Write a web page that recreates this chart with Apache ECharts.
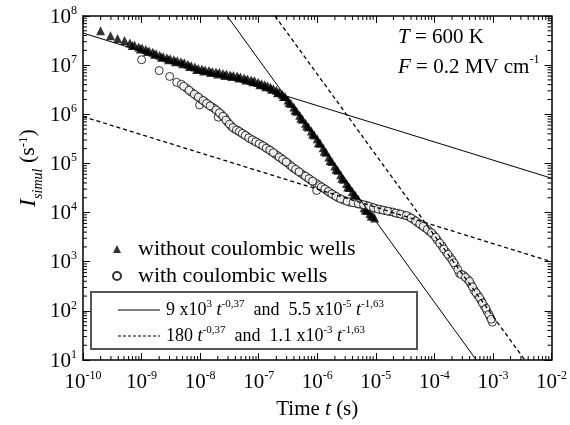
<!DOCTYPE html>
<html><head><meta charset="utf-8">
<script src="https://cdn.jsdelivr.net/npm/echarts@6/dist/echarts.min.js"></script>
<style>html,body{margin:0;padding:0;background:#fff}#c{width:570px;height:425px}</style>
</head><body><div id="c"></div>
<script>
const xTickExps = [-10,-9,-8,-7,-6,-5,-4,-3,-2];
const yTickExps = [1,2,3,4,5,6,7,8];

// "without coulombic wells" (triangles), log10 of time and rate
const triLogT = [-9.70,-9.53,-9.41,-9.29,-9.20,-9.12,-9.05,-8.99,-8.93,-8.87,-8.81,-8.75,-8.69,-8.63,-8.57,-8.51,-8.45,-8.39,-8.33,-8.27,-8.21,-8.15,-8.09,-8.03,-7.97,-7.91,-7.85,-7.79,-7.73,-7.67,-7.61,-7.55,-7.49,-7.43,-7.37,-7.31,-7.25,-7.19,-7.13,-7.07,-7.01,-6.95,-6.90,-6.85,-6.80,-6.75,-6.70,-6.65,-6.60,-6.55,-6.50,-6.45,-6.40,-6.35,-6.30,-6.25,-6.20,-6.15,-6.10,-6.05,-6.00,-5.95,-5.90,-5.85,-5.80,-5.75,-5.70,-5.65,-5.60,-5.55,-5.50,-5.45,-5.40,-5.35,-5.30,-5.25,-5.20,-5.15,-5.10,-5.05,-5.02,
  -9.16,-9.02,-8.90,-8.78,-8.66,-8.54,-8.42,-8.30,-8.18,-8.06,-7.94,-7.82,-7.70,-7.58,-7.46,-7.34,-7.22,-7.10,-6.98,-6.88,-6.78,-6.68,-6.58,-6.48,-6.38,-6.28,-6.18,-6.08,-5.98,-5.88,-5.78,-5.68,-5.58,-5.48,-5.38,-5.28,-5.18,-5.08];
const triLogI = [7.70,7.60,7.54,7.50,7.45,7.41,7.37,7.35,7.32,7.29,7.26,7.23,7.20,7.17,7.15,7.13,7.11,7.09,7.07,7.05,7.02,6.99,6.96,6.93,6.92,6.90,6.89,6.87,6.86,6.85,6.83,6.82,6.80,6.79,6.78,6.76,6.74,6.72,6.70,6.68,6.65,6.62,6.60,6.58,6.55,6.52,6.49,6.45,6.41,6.36,6.29,6.22,6.15,6.06,5.98,5.90,5.82,5.74,5.66,5.58,5.50,5.41,5.32,5.23,5.13,5.04,4.95,4.86,4.77,4.68,4.59,4.51,4.43,4.35,4.27,4.18,4.10,4.04,3.98,3.93,3.89,
  7.40,7.33,7.28,7.22,7.16,7.11,7.07,7.03,6.97,6.91,6.88,6.85,6.82,6.79,6.77,6.74,6.70,6.66,6.60,6.56,6.51,6.44,6.36,6.24,6.08,5.92,5.76,5.60,5.42,5.25,5.06,4.88,4.70,4.52,4.36,4.20,4.05,3.93];

// "with coulombic wells" (circles)
const circLogT = [-9.00,-8.70,-8.52,-8.40,-8.32,-8.23,-8.15,-8.06,-8.01,-7.98,-7.92,-7.86,-7.80,-7.76,-7.69,-7.70,-7.64,-7.58,-7.53,-7.47,-7.41,-7.36,-7.31,-7.26,-7.20,-7.14,-7.08,-7.02,-6.96,-6.90,-6.84,-6.78,-6.72,-6.68,-6.62,-6.56,-6.50,-6.46,-6.40,-6.34,-6.28,-6.23,-6.17,-6.11,-6.06,-6.01,-6.01,-5.96,-5.90,-5.84,-5.78,-5.71,-5.64,-5.54,-5.44,-5.34,-5.26,-5.17,-5.08,-5.00,-4.92,-4.84,-4.76,-4.71,-4.62,-4.53,-4.44,-4.36,-4.28,-4.22,-4.16,-4.09,-4.02,-3.95,-3.87,-3.80,-3.74,-3.70,-3.64,-3.57,-3.50,-3.43,-3.38,-3.32,-3.26,-3.20,-3.15,-3.10,-3.05,-3.01,
  -8.28,-8.19,-8.10,-8.03,-7.95,-7.89,-7.83,-7.73,-7.67,-7.61,-7.56,-7.50,-7.44,-7.38,-7.33,-7.28,-7.23,-7.17,-7.11,-7.05,-6.99,-6.93,-6.87,-6.81,-6.75,-6.65,-6.59,-6.53,-6.43,-6.37,-6.31,-6.20,-6.14,-6.08,-5.93,-5.87,-5.81,-5.75,-5.68,-5.60,-5.49,-5.39,-5.30,-5.21,-5.12,-5.04,-4.96,-4.88,-4.80,-4.66,-4.58,-4.48,-4.40,-4.32,-4.25,-4.19,-4.12,-4.05,-3.98,-3.91,-3.84,-3.77,-3.67,-3.60,-3.54,-3.47,-3.40,-3.35,-3.29,-3.23,-3.18,-3.12,-3.07,-3.03];
const circLogI = [7.11,6.89,6.77,6.65,6.61,6.53,6.45,6.37,6.19,6.30,6.25,6.20,6.15,6.12,5.94,6.06,6.00,5.93,5.84,5.76,5.70,5.67,5.63,5.59,5.55,5.50,5.46,5.42,5.38,5.34,5.29,5.24,5.19,5.16,5.11,5.05,5.00,4.96,4.90,4.85,4.80,4.76,4.71,4.66,4.62,4.59,4.45,4.55,4.50,4.45,4.40,4.35,4.30,4.25,4.21,4.19,4.17,4.15,4.11,4.08,4.06,4.04,4.02,4.01,3.98,3.95,3.92,3.86,3.79,3.74,3.69,3.62,3.55,3.44,3.32,3.20,3.10,3.04,2.92,2.76,2.72,2.64,2.55,2.42,2.32,2.21,2.10,1.99,1.88,1.77,
  6.57,6.49,6.41,6.35,6.28,6.22,6.17,6.09,6.03,5.96,5.88,5.80,5.73,5.68,5.65,5.61,5.57,5.52,5.48,5.44,5.40,5.36,5.31,5.27,5.22,5.13,5.08,5.03,4.93,4.88,4.83,4.74,4.69,4.64,4.52,4.48,4.43,4.38,4.33,4.28,4.23,4.20,4.18,4.16,4.13,4.10,4.07,4.05,4.03,3.99,3.97,3.94,3.89,3.83,3.77,3.72,3.66,3.59,3.50,3.38,3.26,3.15,2.98,2.84,2.74,2.68,2.60,2.49,2.37,2.27,2.16,2.05,1.93,1.83];

// fitted power-law lines (end points)
const solidShallow = [[1e-10, 4.5e7], [1e-2, 5.0e4]];
const solidSteep   = [[2.9e-8, 1e8], [5.2e-4, 10]];
const dashShallow  = [[1e-10, 9.0e5], [1e-2, 1.0e3]];
const dashSteep    = [[1.9e-7, 1e8], [3.5e-3, 10]];

const FONT = 'Liberation Serif';
const toPts = (lt, li) => lt.map((v, i) => [Math.pow(10, v), Math.pow(10, li[i])]);

const xMinor = [], yMinor = [];
for (let d = -10; d < -2; d++) for (let k = 2; k <= 9; k++) xMinor.push([k * Math.pow(10, d), 100]);
for (let d = 1; d < 8; d++) for (let k = 2; k <= 9; k++) yMinor.push([1e-6, k * Math.pow(10, d)]);

const supRich = {
  b: {fontSize: 21, fontFamily: FONT, color: '#000', lineHeight: 23, verticalAlign: 'bottom'},
  s: {fontSize: 12, fontFamily: FONT, color: '#000', lineHeight: 12, verticalAlign: 'top'}
};
const expLabel = (exps) => (v) => {
  const e = Math.round(Math.log10(v));
  const lab = exps.find(x => x === e);
  return lab === undefined ? '' : '{b|10}{s|' + lab + '}';
};

function minorTicks(axis) {
  return function (params, api) {
    const p = api.coord([api.value(0), api.value(1)]);
    const cs = params.coordSys;
    const L = 4;
    const st = {stroke: '#000', lineWidth: 1};
    if (axis === 'x') {
      return {type: 'group', children: [
        {type: 'line', shape: {x1: p[0], y1: cs.y + cs.height, x2: p[0], y2: cs.y + cs.height - L}, style: st},
        {type: 'line', shape: {x1: p[0], y1: cs.y, x2: p[0], y2: cs.y + L}, style: st}
      ]};
    }
    return {type: 'group', children: [
      {type: 'line', shape: {x1: cs.x, y1: p[1], x2: cs.x + L, y2: p[1]}, style: st},
      {type: 'line', shape: {x1: cs.x + cs.width, y1: p[1], x2: cs.x + cs.width - L, y2: p[1]}, style: st}
    ]};
  };
}

const axisCommon = {
  type: 'log', logBase: 10,
  axisLine: {show: true, lineStyle: {color: '#000', width: 1.5}},
  axisTick: {show: true, inside: true, length: 7, lineStyle: {color: '#000', width: 1}},
  splitLine: {show: false}, minorTick: {show: false}
};

const legRich = {
  n: {fontSize: 18, fontFamily: FONT, fill: '#000', lineHeight: 20, verticalAlign: 'bottom'},
  i: {fontSize: 18, fontFamily: FONT, fontStyle: 'italic', fill: '#000', lineHeight: 20, verticalAlign: 'bottom'},
  s: {fontSize: 11, fontFamily: FONT, fill: '#000', lineHeight: 11, verticalAlign: 'top'}
};

const chart = echarts.init(document.getElementById('c'));
chart.setOption({
  animation: false,
  backgroundColor: '#fff',
  grid: {left: 83, right: 12, top: 16, bottom: 62},
  xAxis: [
    Object.assign({}, axisCommon, {
      position: 'bottom', min: 1e-10, max: 1e-2, splitNumber: 8,
      axisLabel: {formatter: expLabel(xTickExps), rich: supRich, margin: 10},
      name: '{n|Time }{i|t}{n| (s)}', nameLocation: 'middle', nameGap: 39,
      nameTextStyle: {rich: {
        n: {fontSize: 21, fontFamily: FONT, color: '#000'},
        i: {fontSize: 21, fontFamily: FONT, fontStyle: 'italic', color: '#000'}
      }}
    }),
    Object.assign({}, axisCommon, {position: 'top', min: 1e-10, max: 1e-2, splitNumber: 8, axisLabel: {show: false}})
  ],
  yAxis: [
    Object.assign({}, axisCommon, {
      position: 'left', min: 10, max: 1e8, splitNumber: 7,
      axisLabel: {formatter: expLabel(yTickExps), rich: supRich, margin: 6}
    }),
    Object.assign({}, axisCommon, {position: 'right', min: 10, max: 1e8, splitNumber: 7, axisLabel: {show: false}})
  ],
  legend: [
    {
      data: ['without coulombic wells', 'with coulombic wells'],
      orient: 'vertical', left: 107, top: 233, itemGap: 5, itemWidth: 8, itemHeight: 8,
      textStyle: {fontSize: 22, fontFamily: FONT, color: '#000', padding: [0, 0, 0, 12]}
    }
  ],
  graphic: [
    {type: 'text', x: 31, y: 168, rotation: Math.PI / 2, style: {
      align: 'center', verticalAlign: 'middle',
      rich: {
        i: {fontSize: 24, fontFamily: FONT, fontStyle: 'italic', fill: '#000', lineHeight: 28, verticalAlign: 'top'},
        sub: {fontSize: 14, fontFamily: FONT, fontStyle: 'italic', fill: '#000', lineHeight: 14, verticalAlign: 'bottom'},
        n: {fontSize: 22, fontFamily: FONT, fill: '#000', lineHeight: 28, verticalAlign: 'top'},
        sup: {fontSize: 13, fontFamily: FONT, fill: '#000', lineHeight: 13, verticalAlign: 'top'}
      },
      text: '{i|I}{sub|simul}{n| (s}{sup|-1}{n|)}'
    }},
    {type: 'rect', shape: {x: 91, y: 292, width: 326, height: 57}, style: {fill: 'none', stroke: '#555', lineWidth: 2}, z: 100},
    {type: 'line', shape: {x1: 118, y1: 310, x2: 160, y2: 310}, style: {stroke: '#000', lineWidth: 1}, z: 100},
    {type: 'line', shape: {x1: 118, y1: 336, x2: 160, y2: 336}, style: {stroke: '#000', lineWidth: 1, lineDash: [3, 2]}, z: 100},
    {type: 'text', x: 166, y: 309, style: {verticalAlign: 'middle', rich: legRich,
      text: '{n|9 x10}{s|3}{n| }{i|t}{s|-0,37}{n|  and  5.5 x10}{s|-5}{n| }{i|t}{s|-1,63}'}, z: 100},
    {type: 'text', x: 166, y: 335, style: {verticalAlign: 'middle', rich: legRich,
      text: '{n|180 }{i|t}{s|-0,37}{n|  and  1.1 x10}{s|-3}{n| }{i|t}{s|-1,63}'}, z: 100},
    {type: 'text', left: 398, top: 27, style: {rich: {
      i: {fontSize: 21, fontFamily: FONT, fontStyle: 'italic', fill: '#000'},
      n: {fontSize: 21, fontFamily: FONT, fill: '#000'}
    }, text: '{i|T}{n| = 600 K}'}},
    {type: 'text', left: 398, top: 54, style: {rich: {
      i: {fontSize: 21, fontFamily: FONT, fontStyle: 'italic', fill: '#000', lineHeight: 24, verticalAlign: 'bottom'},
      n: {fontSize: 21, fontFamily: FONT, fill: '#000', lineHeight: 24, verticalAlign: 'bottom'},
      s: {fontSize: 12, fontFamily: FONT, fill: '#000', lineHeight: 12, verticalAlign: 'top'}
    }, text: '{i|F}{n| = 0.2 MV cm}{s|-1}'}}
  ],
  series: [
    {name: 'solid', type: 'line', data: solidShallow, symbol: 'none', lineStyle: {color: '#000', width: 1}, clip: true},
    {name: 'solid', type: 'line', data: solidSteep, symbol: 'none', lineStyle: {color: '#000', width: 1}, clip: true},
    {name: 'dashed', type: 'line', data: dashShallow, symbol: 'none', lineStyle: {color: '#000', width: 1.3, type: [4, 3]}, clip: true},
    {name: 'dashed', type: 'line', data: dashSteep, symbol: 'none', lineStyle: {color: '#000', width: 1.3, type: [4, 3]}, clip: true},
    {name: 'without coulombic wells', type: 'scatter', symbol: 'triangle', symbolSize: 9, data: toPts(triLogT, triLogI), itemStyle: {color: '#000'}},
    {name: 'with coulombic wells', type: 'scatter', symbol: 'circle', symbolSize: 8, data: toPts(circLogT, circLogI), itemStyle: {color: '#fff', borderColor: '#000', borderWidth: 1}},
    {type: 'custom', renderItem: minorTicks('x'), data: xMinor, silent: true, z: 10},
    {type: 'custom', renderItem: minorTicks('y'), data: yMinor, silent: true, z: 10}
  ]
});
</script>
</body></html>
